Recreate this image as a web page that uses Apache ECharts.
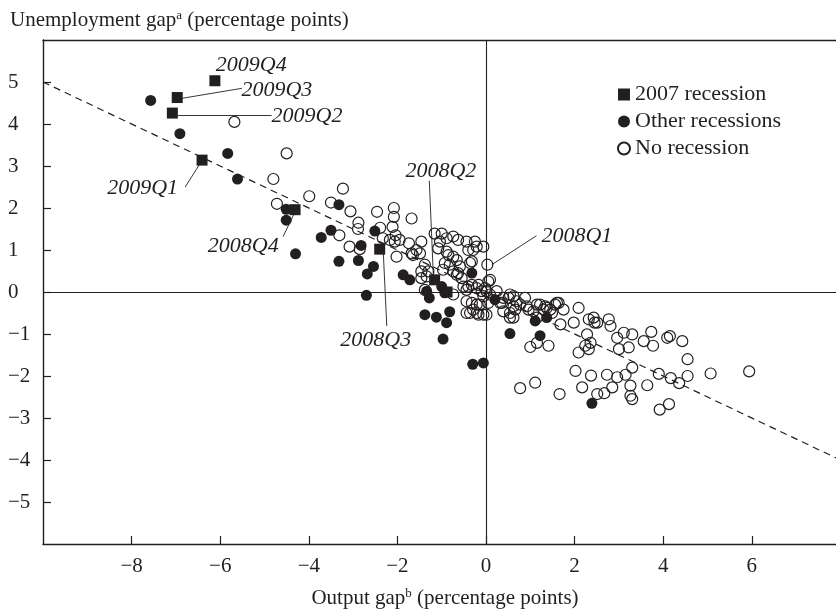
<!DOCTYPE html>
<html>
<head>
<meta charset="utf-8">
<script src="https://cdn.jsdelivr.net/npm/echarts@6/dist/echarts.min.js"></script>
<style>html,body{margin:0;padding:0;background:#fff}#c{width:836px;height:615px}</style>
</head>
<body>
<div id="c"></div>
<script>
// ---- data (output gap, unemployment gap) ----
const recession2007 = [
  [-6.12,5.03],[-6.97,4.63],[-7.08,4.26],[-6.41,3.14],[-4.31,1.96],
  [-2.40,1.02],[-1.16,0.29],[-0.88,0.00]
];
const otherRecessions = [
  [-7.57,4.56],[-6.91,3.77],[-5.83,3.30],[-5.61,2.69],[-4.51,1.97],[-4.51,1.71],
  [-4.30,0.91],[-3.72,1.30],[-3.50,1.47],[-3.32,2.08],[-3.32,0.73],[-2.88,0.75],
  [-2.82,1.11],[-2.51,1.45],[-2.54,0.61],[-2.68,0.43],[-2.70,-0.08],[-1.87,0.41],
  [-1.72,0.29],[-0.32,0.45],[-1.00,0.13],[-1.34,0.02],[-1.28,-0.14],[-0.93,-0.02],
  [-1.38,-0.54],[-1.12,-0.60],[-0.82,-0.47],[-0.89,-0.73],[-0.97,-1.12],[-0.30,-1.72],
  [-0.06,-1.69],[0.20,-0.18],[0.54,-0.99],[1.22,-1.04],[1.37,-0.61],[1.11,-0.69],
  [2.39,-2.65]
];
const noRecession = [
  [-5.68,4.05],[-4.50,3.30],[-4.80,2.69],[-4.72,2.10],[-3.99,2.28],[-3.23,2.46],
  [-3.50,2.13],[-3.06,1.92],[-2.88,1.65],[-2.89,1.50],[-3.31,1.35],[-3.08,1.08],
  [-2.85,1.02],[-2.46,1.91],[-2.08,2.00],[-2.08,1.79],[-1.68,1.75],[-2.39,1.53],
  [-2.11,1.55],[-2.04,1.35],[-2.33,1.28],[-2.17,1.24],[-2.06,1.20],[-1.95,1.24],
  [-1.74,1.16],[-1.46,1.20],[-1.68,0.92],[-2.02,0.84],[-1.57,1.00],[-1.65,0.88],
  [-1.49,0.92],[-1.16,1.39],[-1.00,1.39],[-1.04,1.20],[-0.89,1.28],[-0.74,1.32],
  [-0.63,1.24],[-0.44,1.20],[-0.25,1.20],[-0.21,1.08],[-0.06,1.08],[-0.40,1.00],
  [-0.29,1.00],[-1.08,1.04],[-0.89,0.96],[-0.85,0.88],[-0.74,0.84],[-0.66,0.76],
  [-0.93,0.69],[-0.82,0.65],[-0.59,0.61],[-0.36,0.69],[-0.32,0.73],[0.03,0.65],
  [-0.97,0.53],[-1.38,0.65],[-1.46,0.49],[-1.30,0.49],[-1.34,0.37],[-1.46,0.33],
  [-0.74,0.49],[-0.63,0.45],[-0.66,0.41],[-0.55,0.33],[-0.51,0.13],[-0.44,0.05],
  [-0.32,0.17],[-0.17,0.17],[-0.02,0.09],[0.05,0.25],[0.09,0.29],[-0.40,0.13],
  [-0.21,0.09],[-0.10,0.02],[-0.06,-0.10],[0.09,-0.06],[-0.74,-0.06],[-1.38,0.05],
  [0.01,0.02],[0.24,0.02],[0.54,-0.06],[0.39,-0.14],[0.62,-0.10],[0.69,-0.22],
  [0.88,-0.14],[-0.44,-0.22],[-0.21,-0.30],[-0.06,-0.54],[-0.36,-0.50],[-0.44,-0.50],
  [-0.21,-0.50],[-0.32,-0.26],[-0.14,-0.30],[0.05,-0.26],[0.32,-0.26],[0.39,-0.46],
  [0.54,-0.50],[0.66,-0.42],[0.77,-0.30],[0.92,-0.34],[1.07,-0.46],[1.22,-0.30],
  [1.30,-0.42],[1.49,-0.50],[1.60,-0.26],[0.36,-0.26],[0.51,-0.14],[0.62,-0.34],
  [0.62,-0.61],[0.96,-0.42],[1.15,-0.30],[1.15,-0.61],[1.34,-0.34],[1.64,-0.26],
  [1.68,-0.77],[1.00,-1.31],[1.15,-1.21],[1.41,-1.28],[0.77,-2.29],[1.11,-2.16],
  [0.54,-0.61],[-0.17,-0.54],[0.01,-0.54],[-0.29,-0.42],[1.37,-0.38],[1.45,-0.42],
  [1.75,-0.42],[1.56,-0.30],[2.09,-0.38],[1.98,-0.73],[2.43,-0.61],[2.51,-0.73],
  [2.77,-0.65],[2.81,-0.81],[2.28,-1.01],[2.36,-1.21],[2.24,-1.28],[2.09,-1.44],
  [2.96,-1.09],[3.11,-0.97],[3.30,-1.01],[3.00,-1.36],[3.22,-1.32],[3.56,-1.17],
  [3.73,-0.95],[3.77,-1.28],[4.09,-1.09],[4.15,-1.05],[4.43,-1.17],[4.55,-1.60],
  [3.30,-1.80],[3.15,-1.97],[2.96,-2.03],[2.73,-1.97],[2.37,-1.99],[2.02,-1.88],
  [2.17,-2.27],[1.66,-2.43],[2.51,-2.43],[2.67,-2.41],[2.85,-2.27],[3.26,-2.23],
  [3.26,-2.47],[3.30,-2.55],[3.64,-2.22],[3.90,-1.95],[4.17,-2.05],[4.36,-2.17],
  [4.55,-2.00],[3.92,-2.80],[4.13,-2.67],[5.07,-1.94],[5.94,-1.89],[2.32,-0.65],
  [2.45,-0.73],[2.32,-1.36]
];
// fitted line (Okun-type relation) end points
const fitLine = [[-10,5],[7.9,-3.95]];
// annotation: [label, textX, textY, leaderX1, leaderY1, leaderX2, leaderY2]
const annotations = [
  ['2009Q4',-5.30,5.41,null,null,null,null],
  ['2009Q3',-4.72,4.81,-6.87,4.61,-5.51,4.85],
  ['2009Q2',-4.04,4.19,-6.95,4.21,-4.84,4.21],
  ['2009Q1',-7.75,2.46,-6.79,2.50,-6.46,3.05],
  ['2008Q4',-5.48,1.10,-4.58,1.32,-4.33,1.87],
  ['2008Q3',-2.49,-1.15,-2.32,0.97,-2.24,-0.81],
  ['2008Q2',-1.02,2.88,-1.28,2.65,-1.19,0.41],
  ['2008Q1',2.05,1.34,1.14,1.34,0.13,0.65]
];
const seriesNames = ['2007 recession','Other recessions','No recession'];
const xTicks = {min:-10, max:7.9, interval:2};
const yTicks = {min:-6, max:6, interval:1};

const INK = '#231f20';
const FONT = 'Liberation Serif';
const fmt = v => v < 0 ? '\u2212' + Math.abs(v) : String(v);

const chart = echarts.init(document.getElementById('c'), null, {renderer:'canvas'});
chart.setOption({
  animation: false,
  backgroundColor: '#fff',
  textStyle: {fontFamily: FONT, color: INK},
  title: {
    text: 'Unemployment gap{sup|a} (percentage points)',
    left: 10, top: 9, padding: 0,
    textStyle: {fontFamily: FONT, fontSize: 21, fontWeight: 'normal', color: INK, lineHeight: 23,
      rich: {sup: {fontFamily: FONT, fontSize: 13, color: INK, verticalAlign: 'top', lineHeight: 23}}}
  },
  legend: {
    orient: 'vertical', left: 617, top: 83, itemGap: 4, itemWidth: 12, itemHeight: 12,
    padding: 0,
    textStyle: {fontFamily: FONT, fontSize: 22, color: INK, lineHeight: 23},
    data: [
      {name: seriesNames[0], icon: 'rect'},
      {name: seriesNames[1], icon: 'circle'},
      {name: seriesNames[2], icon: 'circle'}
    ]
  },
  grid: {left: 43, right: 0, top: 40, bottom: 67},
  xAxis: [{
    type: 'value', min: xTicks.min, max: xTicks.max, interval: xTicks.interval,
    position: 'bottom',
    name: 'Output gap{sup|b} (percentage points)', nameLocation: 'middle', nameGap: 43,
    nameTextStyle: {fontFamily: FONT, fontSize: 21, color: INK, lineHeight: 23, padding: [0,0,0,11],
      rich: {sup: {fontFamily: FONT, fontSize: 13, color: INK, verticalAlign: 'top', lineHeight: 23}}},
    axisLine: {show: true, onZero: false, lineStyle: {color: INK, width: 1.4}},
    axisTick: {show: true, inside: true, length: 8, lineStyle: {color: INK, width: 1.2}},
    axisLabel: {fontFamily: FONT, fontSize: 21, color: INK, margin: 12, showMinLabel: false, showMaxLabel: false, formatter: fmt},
    splitLine: {show: false}
  }, {
    type: 'value', min: xTicks.min, max: xTicks.max, position: 'top',
    axisLine: {show: true, onZero: false, lineStyle: {color: INK, width: 1.4}},
    axisTick: {show: false}, axisLabel: {show: false}, splitLine: {show: false}
  }],
  yAxis: {
    type: 'value', min: yTicks.min, max: yTicks.max, interval: yTicks.interval,
    axisLine: {show: true, onZero: false, lineStyle: {color: INK, width: 1.4}},
    axisTick: {show: true, inside: true, length: 8, lineStyle: {color: INK, width: 1.2}},
    axisLabel: {fontFamily: FONT, fontSize: 21, color: INK, margin: 35, align: 'left', showMinLabel: false, showMaxLabel: false, formatter: fmt},
    splitLine: {show: false}
  },
  series: [
    {
      type: 'line', name: 'fit', data: fitLine, symbol: 'none', silent: true,
      lineStyle: {color: INK, width: 1.2, type: [7,5]},
      markLine: {
        silent: true, symbol: 'none', label: {show: false},
        lineStyle: {color: INK, width: 1.1, type: 'solid'},
        data: [{xAxis: 0}, {yAxis: 0}]
      },
      z: 1
    },
    {
      type: 'scatter', name: seriesNames[2], data: noRecession, symbol: 'circle', symbolSize: 11,
      itemStyle: {color: 'rgba(255,255,255,0)', borderColor: INK, borderWidth: 1.2, opacity: 1}, z: 2
    },
    {
      type: 'scatter', name: seriesNames[1], data: otherRecessions, symbol: 'circle', symbolSize: 11,
      itemStyle: {color: INK, opacity: 1}, z: 3
    },
    {
      type: 'scatter', name: seriesNames[0], data: recession2007, symbol: 'rect', symbolSize: 11,
      itemStyle: {color: INK, opacity: 1}, z: 4
    },
    {
      type: 'scatter', name: 'annotations', symbolSize: 0, silent: true,
      itemStyle: {opacity: 1},
      data: annotations.map(a => ({value: [a[1], a[2]], name: a[0]})),
      label: {show: true, position: 'inside', formatter: p => p.name, opacity: 1,
        fontFamily: FONT, fontStyle: 'italic', fontSize: 22, color: INK},
      markLine: {
        silent: true, symbol: 'none', label: {show: false},
        lineStyle: {color: INK, width: 0.9, type: 'solid', opacity: 1},
        data: annotations.filter(a => a[3] !== null).map(a => [{coord: [a[3], a[4]]}, {coord: [a[5], a[6]]}])
      },
      z: 5
    }
  ]
});
</script>
</body>
</html>
